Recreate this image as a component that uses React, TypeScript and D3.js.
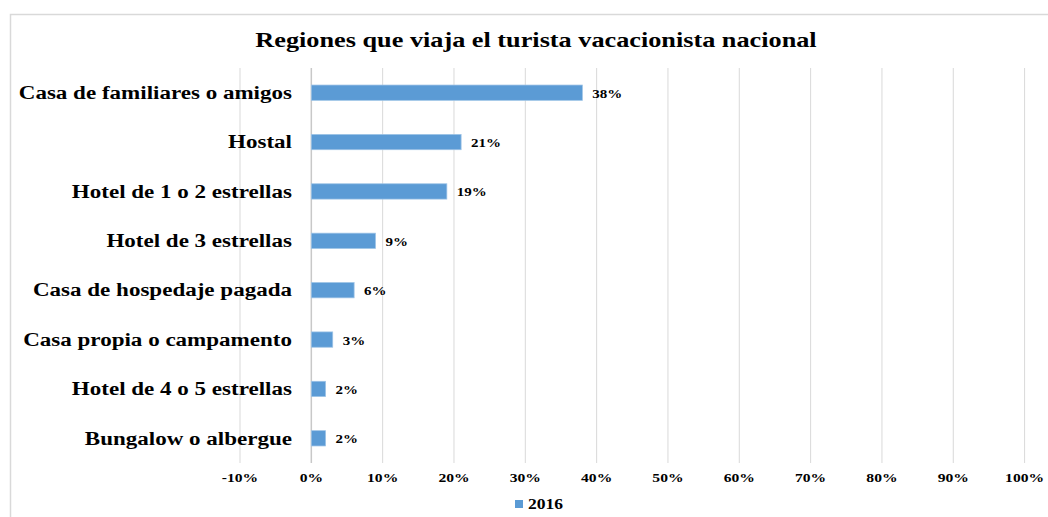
import React from 'react';
import * as d3 from 'd3';

const categories = [
  'Casa de familiares o amigos',
  'Hostal',
  'Hotel de 1 o 2 estrellas',
  'Hotel de 3 estrellas',
  'Casa de hospedaje pagada',
  'Casa propia o campamento',
  'Hotel de 4 o 5 estrellas',
  'Bungalow o albergue',
];
const values2016 = [0.38, 0.21, 0.19, 0.09, 0.06, 0.03, 0.02, 0.02];
const xTicks = [-0.1, 0, 0.1, 0.2, 0.3, 0.4, 0.5, 0.6, 0.7, 0.8, 0.9, 1.0];
const seriesName = '2016';

const W = 1048;
const H = 517;
const font = '"Liberation Serif", "Times New Roman", serif';
const barColor = '#5B9BD5';
const SX = 1.25; // source image is stretched horizontally

// text stretched horizontally around its anchor point
function T({ x, y, anchor = 'start', size, sx = SX, dy = '0', children }: any) {
  return (
    <text
      transform={`translate(${x},${y}) scale(${sx},1)`}
      dy={dy}
      textAnchor={anchor}
      fontFamily={font}
      fontWeight="bold"
      fontSize={size}
      fill="#000"
    >
      {children}
    </text>
  );
}

export default function App() {
  const x = d3.scaleLinear().domain([-0.1, 1.0]).range([240, 1024.6]);
  const y = d3.scaleBand<string>().domain(categories).range([68, 463]).paddingInner(0.69).paddingOuter(0.345);
  const pct = (v: number) => `${Math.round(v * 100)}%`;

  return (
    <svg width={W} height={H} style={{ position: 'absolute', left: 0, top: 0 }}>
      <rect x={0} y={0} width={W} height={H} fill="#fff" />
      {/* chart frame, cropped at right and bottom */}
      <rect x={10.5} y={14.5} width={W + 20} height={H + 20} fill="none" stroke="#d9d9d9" strokeWidth={1.5} />
      <T x={536} y={47} anchor="middle" size={21}>
        Regiones que viaja el turista vacacionista nacional
      </T>
      {xTicks.map((t) => (
        <g key={t}>
          <line x1={x(t)} x2={x(t)} y1={68} y2={463} stroke={t === 0 ? '#c8c8c8' : '#d9d9d9'} strokeWidth={t === 0 ? 1.5 : 1} />
          <T x={x(t)} y={482} anchor="middle" size={12.5}>
            {pct(t)}
          </T>
        </g>
      ))}
      {categories.map((c, i) => {
        const yy = y(c)!;
        const bw = y.bandwidth();
        return (
          <g key={c}>
            <rect x={x(0)} y={yy} width={x(values2016[i]) - x(0)} height={bw} fill={barColor} stroke="#9dc3e6" strokeWidth={0.75} />
            <T x={292} y={yy + bw / 2} dy="0.35em" anchor="end" size={18} sx={1.28}>
              {c}
            </T>
            <T x={x(values2016[i]) + 10} y={yy + bw / 2} dy="0.4em" size={12.5} sx={1.2}>
              {pct(values2016[i])}
            </T>
          </g>
        );
      })}
      <rect x={515} y={500} width={8} height={8} fill={barColor} />
      <T x={528} y={509} size={15} sx={1.17}>
        {seriesName}
      </T>
    </svg>
  );
}
